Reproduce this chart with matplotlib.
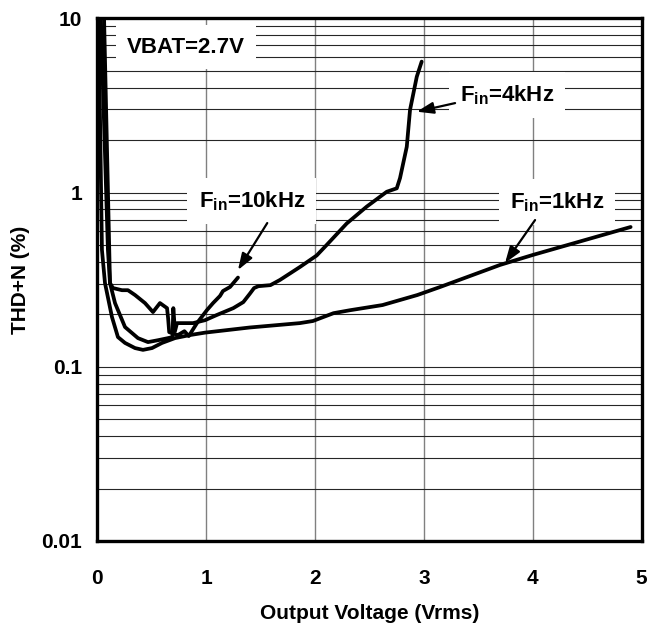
import matplotlib
matplotlib.use("Agg")
import matplotlib.pyplot as plt
from matplotlib.ticker import LogLocator, NullFormatter, FixedLocator

plt.rcParams['font.family'] = ['Liberation Sans', 'DejaVu Sans']
plt.rcParams['font.weight'] = 'bold'
plt.rcParams['axes.labelweight'] = 'bold'
plt.rcParams['mathtext.fontset'] = 'custom'
plt.rcParams['mathtext.rm'] = 'Liberation Sans:bold'
plt.rcParams['mathtext.bf'] = 'Liberation Sans:bold'

# THD+N (%) vs output voltage (Vrms)
v_1k = [0.01, 0.042, 0.070, 0.134, 0.189, 0.254, 0.346, 0.419, 0.502, 0.594,
        0.713, 0.85, 0.99, 1.40, 1.86, 1.98, 2.17, 2.32, 2.62, 2.94, 3.15,
        3.70, 4.00, 4.90]
thd_1k = [11.0, 0.468, 0.302, 0.193, 0.148, 0.137, 0.128, 0.125, 0.128, 0.137,
          0.146, 0.152, 0.157, 0.168, 0.178, 0.183, 0.203, 0.211, 0.226, 0.258,
          0.287, 0.384, 0.438, 0.634]

v_4k = [0.03, 0.097, 0.116, 0.162, 0.254, 0.373, 0.465, 0.557, 0.649, 0.690,
        0.698, 0.713, 0.732, 0.787, 0.879, 0.989, 1.096, 1.249, 1.341, 1.40,
        1.44, 1.48, 1.59, 1.678, 1.862, 2.015, 2.107, 2.291, 2.475, 2.659,
        2.751, 2.781, 2.843, 2.873, 2.935, 2.98]
thd_4k = [11.0, 0.468, 0.302, 0.232, 0.169, 0.146, 0.1385, 0.142, 0.146, 0.148,
          0.217, 0.160, 0.178, 0.178, 0.178, 0.185, 0.198, 0.217, 0.235, 0.262,
          0.283, 0.290, 0.294, 0.315, 0.374, 0.435, 0.50, 0.664, 0.83, 1.01,
          1.057, 1.21, 1.83, 2.98, 4.62, 5.64]

v_10k = [0.06, 0.116, 0.143, 0.226, 0.281, 0.346, 0.4375, 0.511, 0.575, 0.640,
         0.650, 0.660, 0.74, 0.80, 0.84, 0.915, 1.007, 1.063, 1.127, 1.154,
         1.219, 1.292]
thd_10k = [11.0, 0.302, 0.283, 0.275, 0.275, 0.258, 0.232, 0.206, 0.232, 0.217,
           0.19, 0.158, 0.152, 0.160, 0.150, 0.178, 0.2115, 0.232, 0.255, 0.272,
           0.287, 0.325]

x_ticks = [0, 1, 2, 3, 4, 5]
y_ticks = [0.01, 0.1, 1, 10]
y_tick_labels = ["0.01", "0.1", "1", "10"]

fig = plt.figure(figsize=(6.47, 6.26), dpi=100)
ax = fig.add_axes([0.1505, 0.1358, 0.841, 0.835])
ax.set_yscale('log')
ax.set_xlim(0, 5)
ax.set_ylim(0.01, 10)

ax.xaxis.set_major_locator(FixedLocator(x_ticks))
ax.yaxis.set_major_locator(FixedLocator(y_ticks))
ax.set_yticklabels(y_tick_labels)
ax.yaxis.set_minor_locator(LogLocator(base=10, subs=range(2, 10)))
ax.yaxis.set_minor_formatter(NullFormatter())

ax.grid(which='major', axis='x', color='0.5', lw=1.0)
ax.grid(which='both', axis='y', color='0.15', lw=0.8)
ax.tick_params(which='both', length=0, labelsize=15)
ax.tick_params(axis='x', pad=20)
ax.tick_params(axis='y', pad=11)

for s in ax.spines.values():
    s.set_linewidth(2.4)

for v, t in ((v_1k, thd_1k), (v_4k, thd_4k), (v_10k, thd_10k)):
    ax.plot(v, t, color='black', lw=2.7, solid_joinstyle='round',
            solid_capstyle='round', zorder=3)

box = dict(facecolor='white', edgecolor='none', boxstyle='square,pad=0.5')
ax.text(0.815, 6.84, "VBAT=2.7V", fontsize=16, ha='center', va='center',
        bbox=box, zorder=4)
ax.text(1.42, 0.894, r"F$_{\mathrm{in}}$=10kHz", fontsize=16, ha='center',
        va='center', bbox=box, zorder=4)
ax.text(3.764, 3.63, r"F$_{\mathrm{in}}$=4kHz", fontsize=16, ha='center',
        va='center', bbox=box, zorder=4)
ax.text(4.224, 0.882, r"F$_{\mathrm{in}}$=1kHz", fontsize=16, ha='center',
        va='center', bbox=box, zorder=4)

arrow = dict(arrowstyle='-|>,head_length=1.0,head_width=0.35', lw=1.6,
             color='black', mutation_scale=10, shrinkA=0, shrinkB=0)
ax.annotate('', xy=(1.292, 0.359), xytext=(1.561, 0.668), arrowprops=arrow, zorder=5)
ax.annotate('', xy=(2.935, 2.91), xytext=(3.287, 3.26), arrowprops=arrow, zorder=5)
ax.annotate('', xy=(3.746, 0.394), xytext=(4.022, 0.695), arrowprops=arrow, zorder=5)

ax.set_xlabel("Output Voltage (Vrms)", fontsize=15, labelpad=12)
ax.set_ylabel("THD+N (%)", fontsize=15, labelpad=8)

fig.savefig("out.png", dpi=100)
